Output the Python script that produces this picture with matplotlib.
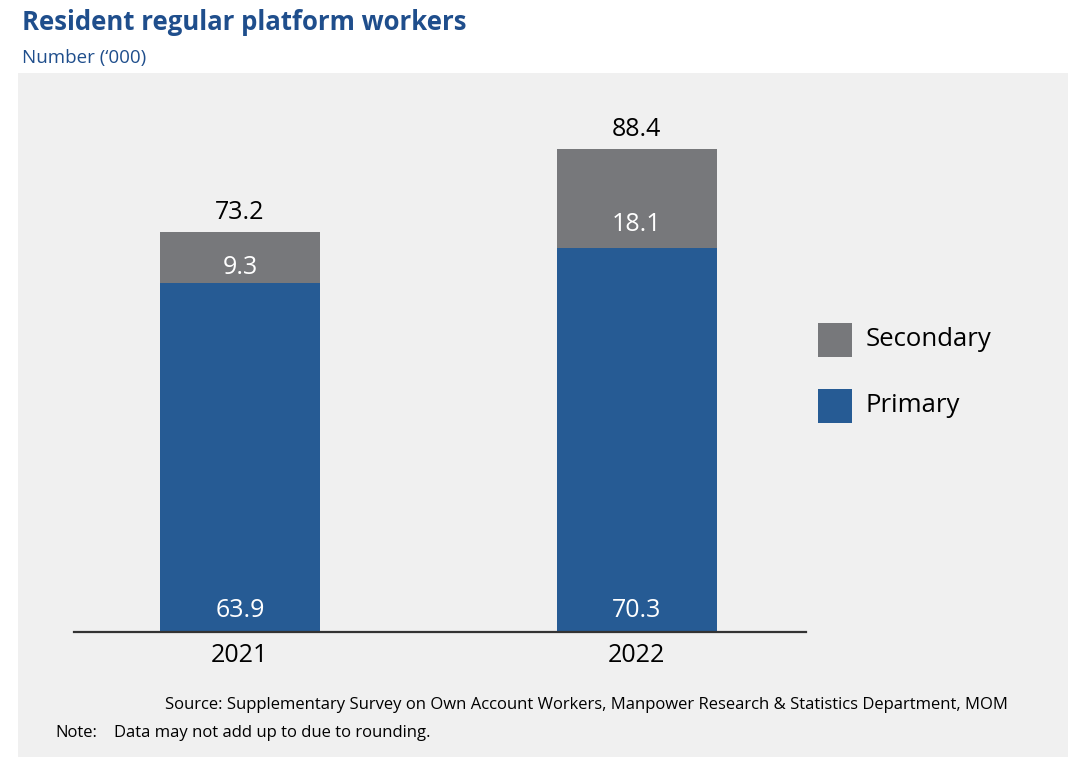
import matplotlib
matplotlib.use("Agg")
import matplotlib.pyplot as plt
from matplotlib.patches import Rectangle

years = ["2021", "2022"]
primary = [63.9, 70.3]
secondary = [9.3, 18.1]
totals = [73.2, 88.4]

C_PRIM = "#265B94"
C_SEC = "#77787B"
C_BG = "#F0F0F0"
C_TITLE = "#1F4E8C"

# vertical placement of the secondary value labels above the primary segment (style)
sec_label_offset = [2.9, 4.2]

plt.rcParams['font.family'] = ['Open Sans', 'DejaVu Sans']

W, H = 1080, 767
fig = plt.figure(figsize=(W/100, H/100), dpi=100)
fig.patch.set_facecolor("white")

def fx(px):
    return px / W

def fy(py):
    return 1 - py / H

# grey panel
fig.patches.append(Rectangle((fx(18), fy(757)), fx(1068) - fx(18), fy(73) - fy(757),
                             transform=fig.transFigure, facecolor=C_BG, edgecolor="none", zorder=-5))

fig.text(fx(22), fy(22), "Resident regular platform workers", fontsize=18.5, fontweight="bold",
         color=C_TITLE, va="center", ha="left")
fig.text(fx(22), fy(58), "Number (\u2018000)", fontsize=13.5, color=C_TITLE, va="center", ha="left")

ax_l, ax_r, ax_t, ax_b = 74, 806, 100, 632
ax = fig.add_axes([fx(ax_l), fy(ax_b), fx(ax_r) - fx(ax_l), fy(ax_t) - fy(ax_b)])
ax.set_zorder(2)
ax.set_facecolor("none")
ppu = (632 - 149) / 88.4
ax.set_ylim(0, (ax_b - ax_t) / ppu)
xs = [0, 1]
ax.set_xlim(-0.418, 1.426)
bw = 0.403

ax.bar(xs, primary, width=bw, color=C_PRIM, zorder=2)
ax.bar(xs, secondary, width=bw, bottom=primary, color=C_SEC, zorder=2)

for x, p, s, t, off in zip(xs, primary, secondary, totals, sec_label_offset):
    ax.text(x, 4.0, f"{p:.1f}", ha="center", va="center", color="white", fontsize=18)
    ax.text(x, p + off, f"{s:.1f}", ha="center", va="center",
            color="white", fontsize=18)
    ax.text(x, t + 3.5, f"{t:.1f}", ha="center", va="center", color="black", fontsize=18)

for sp in ["top", "right", "left"]:
    ax.spines[sp].set_visible(False)
ax.spines["bottom"].set_linewidth(1.6)
ax.spines["bottom"].set_color("#333333")
ax.set_yticks([])
ax.set_xticks(xs)
ax.set_xticklabels(years, fontsize=18)
ax.tick_params(axis="x", length=0, pad=8)

# legend
fig.patches.append(Rectangle((fx(818), fy(357)), fx(852) - fx(818), fy(323) - fy(357),
                             transform=fig.transFigure, facecolor=C_SEC, edgecolor="none"))
fig.patches.append(Rectangle((fx(818), fy(423)), fx(852) - fx(818), fy(389) - fy(423),
                             transform=fig.transFigure, facecolor=C_PRIM, edgecolor="none"))
fig.text(fx(866), fy(339), "Secondary", fontsize=18.5, va="center", ha="left", color="black")
fig.text(fx(866), fy(405), "Primary", fontsize=18.5, va="center", ha="left", color="black")

fig.text(fx(1008), fy(705), "Source: Supplementary Survey on Own Account Workers, Manpower Research & Statistics Department, MOM",
         fontsize=12, ha="right", va="center", color="black")
fig.text(fx(55), fy(733), "Note:", fontsize=12, ha="left", va="center", color="black")
fig.text(fx(114), fy(733), "Data may not add up to due to rounding.", fontsize=12,
         ha="left", va="center", color="black")

fig.savefig("out.png", dpi=100)
